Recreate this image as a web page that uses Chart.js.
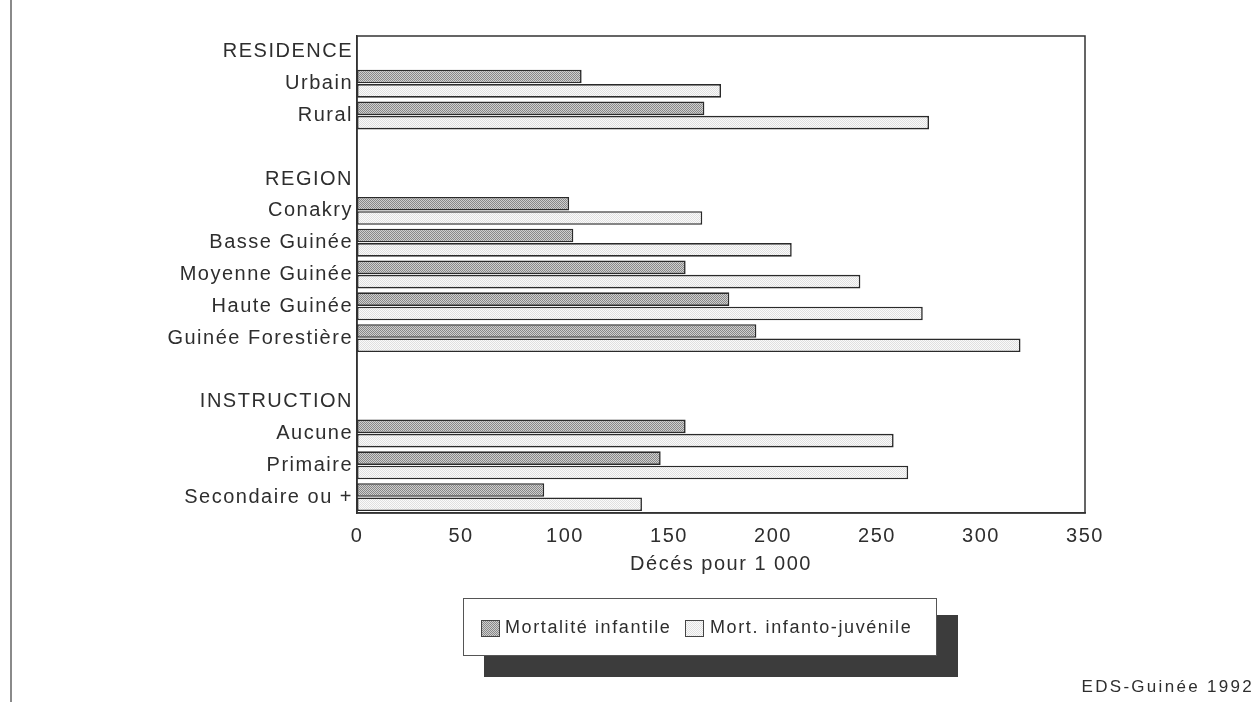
<!DOCTYPE html>
<html>
<head>
<meta charset="utf-8">
<script src="https://cdn.jsdelivr.net/npm/chart.js@4/dist/chart.umd.min.js"></script>
<style>
  html, body { margin: 0; padding: 0; background: #ffffff; }
  #wrap { position: relative; width: 1257px; height: 702px; }
</style>
</head>
<body>
<div id="wrap"><canvas id="c"></canvas></div>
<script>
// ---- Data ----
const categories = ['RESIDENCE', 'Urbain', 'Rural', '', 'REGION', 'Conakry', 'Basse Guinée',
  'Moyenne Guinée', 'Haute Guinée', 'Guinée Forestière', '', 'INSTRUCTION', 'Aucune', 'Primaire',
  'Secondaire ou +'];
const infantMortality = [null, 108, 167, null, null, 102, 104, 158, 179, 192, null, null, 158, 146, 90];
const childMortality = [null, 175, 275, null, null, 166, 209, 242, 272, 319, null, null, 258, 265, 137];
const seriesNames = ['Mortalité infantile', 'Mort. infanto-juvénile'];
const xTicks = [0, 50, 100, 150, 200, 250, 300, 350];
const axisTitle = 'Décés pour 1 000';
const sourceNote = 'EDS-Guinée 1992';

const FONT = '"Liberation Sans", Arial, Helvetica, sans-serif';
const INK = '#2e2e2e';

const canvas = document.getElementById('c');
const baseCtx = canvas.getContext('2d');

function makePattern(dark, light) {
  const p = document.createElement('canvas');
  p.width = 2; p.height = 2;
  const g = p.getContext('2d');
  g.fillStyle = light; g.fillRect(0, 0, 2, 2);
  g.fillStyle = dark; g.fillRect(0, 0, 1, 1); g.fillRect(1, 1, 1, 1);
  return baseCtx.createPattern(p, 'repeat');
}
const infantFill = makePattern('#888888', '#cfcfcf');
const childFill = makePattern('#e0e0e0', '#fafafa');

Chart.defaults.font.family = FONT;
Chart.defaults.color = INK;

const spacingPlugin = {
  id: 'spacing',
  beforeUpdate(chart) { chart.ctx.letterSpacing = '1.5px'; },
  beforeDraw(chart) { chart.ctx.letterSpacing = '1.5px'; }
};

const decorPlugin = {
  id: 'decor',
  afterDraw(chart) {
    const ctx = chart.ctx;
    const a = chart.chartArea;
    ctx.save();
    // plot frame
    ctx.strokeStyle = '#333';
    ctx.lineWidth = 1.5;
    ctx.strokeRect(a.left, a.top, a.right - a.left, a.bottom - a.top);
    // left page rule
    ctx.strokeStyle = '#8a8a8a';
    ctx.lineWidth = 2;
    ctx.beginPath(); ctx.moveTo(11, 0); ctx.lineTo(11, 702); ctx.stroke();
    // legend shadow and box
    ctx.fillStyle = '#3c3c3c';
    ctx.fillRect(484, 615, 474, 62);
    ctx.fillStyle = '#ffffff';
    ctx.fillRect(463, 598, 473, 57);
    ctx.strokeStyle = '#555';
    ctx.lineWidth = 1;
    ctx.strokeRect(463.5, 598.5, 473, 57);
    // legend items
    const items = [
      { fill: infantFill, x: 481, tx: 505, label: seriesNames[0] },
      { fill: childFill, x: 685, tx: 710, label: seriesNames[1] }
    ];
    ctx.font = '18px ' + FONT;
    ctx.letterSpacing = '1.6px';
    ctx.textBaseline = 'middle';
    ctx.textAlign = 'left';
    items.forEach(it => {
      ctx.fillStyle = it.fill;
      ctx.fillRect(it.x, 620, 18, 16);
      ctx.strokeStyle = '#444';
      ctx.lineWidth = 1;
      ctx.strokeRect(it.x + 0.5, 620.5, 18, 16);
      ctx.fillStyle = INK;
      ctx.fillText(it.label, it.tx, 628);
    });
    // source note
    ctx.font = '17px ' + FONT;
    ctx.letterSpacing = '2.3px';
    ctx.textAlign = 'right';
    ctx.fillStyle = INK;
    ctx.fillText(sourceNote, 1254, 687);
    ctx.restore();
  }
};

new Chart(baseCtx, {
  type: 'bar',
  data: {
    labels: categories,
    datasets: [
      { label: seriesNames[0], data: infantMortality, backgroundColor: infantFill,
        borderColor: '#2a2a2a', borderWidth: 1.6, borderSkipped: false,
        categoryPercentage: 0.9, barPercentage: 0.95 },
      { label: seriesNames[1], data: childMortality, backgroundColor: childFill,
        borderColor: '#2a2a2a', borderWidth: 1.6, borderSkipped: false,
        categoryPercentage: 0.9, barPercentage: 0.95 }
    ]
  },
  options: {
    indexAxis: 'y',
    responsive: true,
    maintainAspectRatio: false,
    animation: false,
    layout: { padding: { left: 0, top: 36, right: 172, bottom: 0 } },
    plugins: { legend: { display: false }, tooltip: { enabled: false } },
    scales: {
      x: {
        min: 0, max: 350,
        afterBuildTicks(scale) { scale.ticks = xTicks.map(v => ({ value: v })); },
        afterFit(scale) { scale.height = 189; },
        grid: { display: false, drawTicks: false },
        border: { display: true, color: '#333', width: 1.5 },
        ticks: { padding: 11, font: { size: 20 }, color: INK },
        title: { display: true, text: axisTitle, font: { size: 20 }, color: INK,
                 padding: { top: 4, bottom: 126 } }
      },
      y: {
        afterFit(scale) { scale.width = 357; },
        grid: { display: false, drawTicks: false },
        border: { display: true, color: '#333', width: 1.5 },
        ticks: { padding: 4, font: { size: 20 }, color: INK, autoSkip: false }
      }
    }
  },
  plugins: [spacingPlugin, decorPlugin]
});
</script>
</body>
</html>
